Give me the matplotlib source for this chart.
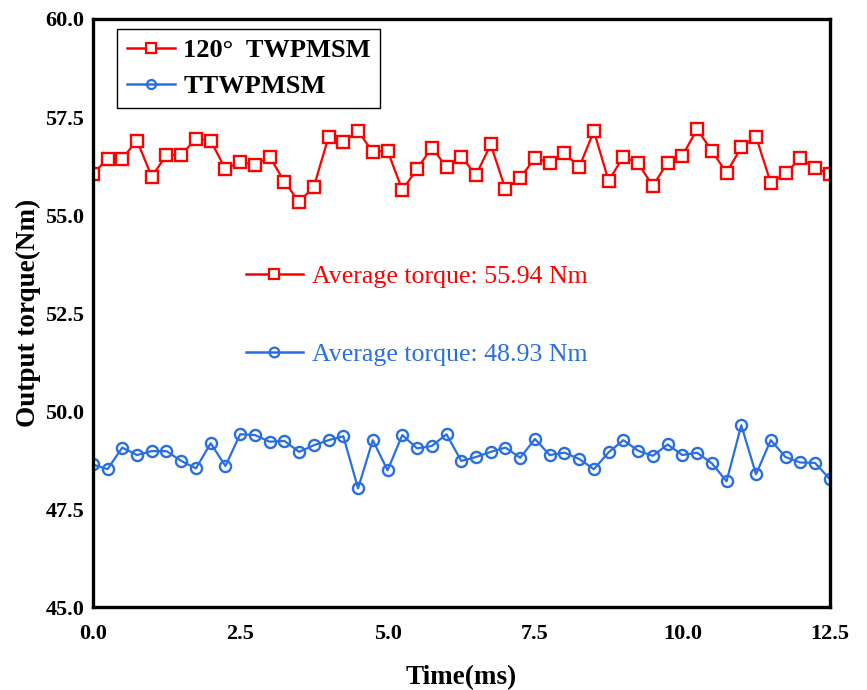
import numpy as np
from matplotlib import pyplot as plt
from matplotlib.lines import Line2D

plt.rcParams['font.family'] = ['Liberation Serif', 'DejaVu Serif']

# tiempo (ms), paso 0.25
t = np.arange(51) * 0.25

par_120 = [56.04, 56.44, 56.44, 56.90, 55.98, 56.53, 56.53, 56.95, 56.90, 56.17,
           56.36, 56.28, 56.49, 55.85, 55.34, 55.72, 57.00, 56.87, 57.14, 56.61,
           56.64, 55.64, 56.17, 56.72, 56.23, 56.49, 56.02, 56.80, 55.66, 55.95,
           56.45, 56.34, 56.59, 56.22, 57.14, 55.87, 56.49, 56.32, 55.74, 56.34,
           56.51, 57.19, 56.64, 56.08, 56.73, 57.00, 55.82, 56.06, 56.45, 56.21,
           56.04]
par_ttw = [48.64, 48.52, 49.07, 48.88, 48.98, 48.98, 48.73, 48.54, 49.18, 48.60,
           49.41, 49.39, 49.22, 49.24, 48.96, 49.13, 49.26, 49.36, 48.03, 49.26,
           48.49, 49.39, 49.05, 49.11, 49.41, 48.73, 48.83, 48.96, 49.07, 48.81,
           49.29, 48.88, 48.94, 48.78, 48.52, 48.95, 49.26, 48.99, 48.86, 49.15,
           48.88, 48.94, 48.67, 48.21, 49.64, 48.39, 49.26, 48.83, 48.69, 48.68,
           48.27]

rojo = '#ff0000'
azul = '#2a6fe0'
estilo = dict(lw=1.6, ms=8, mew=1.7)

fig = plt.figure(figsize=(8.67, 6.9), dpi=100)
ax = fig.add_axes([0.107, 0.12, 0.85, 0.8525])

l1, = ax.plot(t, par_120, '-s', color=rojo, mfc='white', label='120°  TWPMSM', **estilo)
l2, = ax.plot(t, par_ttw, '-o', color=azul, mfc='none', label='TTWPMSM', **estilo)

ax.set_xlim(0, 12.5)
ax.set_ylim(45, 60)
ax.set_xticks(np.arange(0, 12.6, 2.5))
ax.set_yticks(np.arange(45, 60.1, 2.5))
ax.set_xticklabels(['%.1f' % v for v in np.arange(0, 12.6, 2.5)])
ax.set_yticklabels(['%.1f' % v for v in np.arange(45, 60.1, 2.5)])
ax.tick_params(length=0, labelsize=16)
ax.tick_params(axis='x', pad=12)
ax.tick_params(axis='y', pad=6)
for lab in ax.get_xticklabels() + ax.get_yticklabels():
    lab.set_fontweight('bold')
for s in ax.spines.values():
    s.set_linewidth(2.4)

ax.set_xlabel('Time(ms)', fontsize=19.5, fontweight='bold', labelpad=15)
ax.set_ylabel('Output torque(Nm)', fontsize=19.5, fontweight='bold', labelpad=3)

# leyenda principal (marcadores mas pequenos)
g1 = Line2D([], [], color=rojo, marker='s', mfc='white', lw=1.8, ms=6.5, mew=1.6)
g2 = Line2D([], [], color=azul, marker='o', mfc='none', lw=1.8, ms=6.5, mew=1.6)
leg = ax.legend(handles=[g1, g2], labels=[l1.get_label(), l2.get_label()],
                loc='upper left', bbox_to_anchor=(0.033, 0.983),
                fancybox=False, edgecolor='black', framealpha=1,
                prop={'weight': 'bold', 'size': 19}, handlelength=1.85,
                borderpad=0.36, labelspacing=0.48, handletextpad=0.3, borderaxespad=0)
leg.get_frame().set_linewidth(1.0)
ax.add_artist(leg)

# anotaciones del par medio
h1 = Line2D([], [], color=rojo, marker='s', mfc='white', lw=1.8, ms=7, mew=1.6)
h2 = Line2D([], [], color=azul, marker='o', mfc='none', lw=1.8, ms=7, mew=1.6)
ax.legend(handles=[h1, h2], labels=['Average torque: 55.94 Nm', 'Average torque: 48.93 Nm'],
          loc='upper left', bbox_to_anchor=(0.176, 0.621), frameon=False,
          prop={'size': 18.6}, labelcolor=[rojo, azul], handlelength=2.2,
          handletextpad=0.35, labelspacing=2.12)

plt.savefig('out.png', dpi=100)
